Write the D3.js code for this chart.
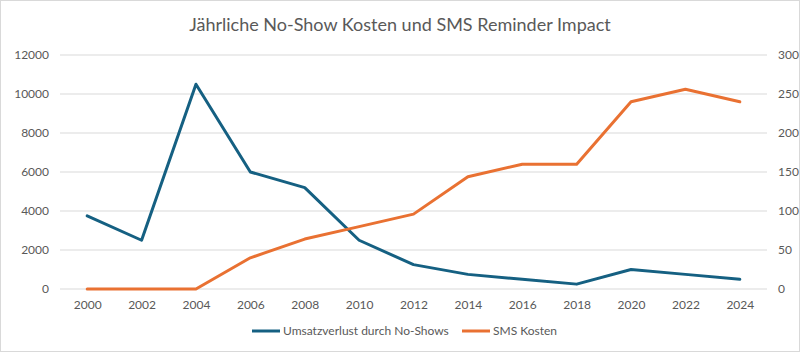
<!DOCTYPE html>
<html><head><meta charset="utf-8">
<script src="https://cdn.jsdelivr.net/npm/d3@7"></script>
<style>body{margin:0;background:#fff;}svg{display:block;font-family:Lato,"Open Sans",sans-serif;}</style>
</head><body><svg id="c" width="800" height="352"></svg>
<script>
const years = ["2000","2002","2004","2006","2008","2010","2012","2014","2016","2018","2020","2022","2024"];
const umsatzverlust = [3750,2500,10500,6000,5200,2500,1250,750,500,250,1000,750,500];
const smsKosten = [0,0,0,40,64,80,96,144,160,160,240,256,240];
const leftTicks = [0,2000,4000,6000,8000,10000,12000];
const rightTicks = [0,50,100,150,200,250,300];
const seriesNames = ["Umsatzverlust durch No-Shows","SMS Kosten"];
const colors = ["#156082","#e97132"];
const title = "Jährliche No-Show Kosten und SMS Reminder Impact";

const svg = d3.select("#c");
svg.append("rect").attr("x",0.5).attr("y",0.5).attr("width",799).attr("height",351).attr("fill","#fff").attr("stroke","#d9d9d9");
const L=60,R=767,T=55,B=289;
const x = d3.scalePoint().domain(years).range([L,R]).padding(0.5);
const yL = d3.scaleLinear().domain([0,12000]).range([B,T]);
const yR = d3.scaleLinear().domain([0,300]).range([B,T]);

svg.append("text").attr("x",400).attr("y",31).attr("text-anchor","middle").attr("font-size",18).attr("fill","#595959").text(title);

const grid = svg.append("g");
grid.selectAll("line").data(leftTicks).join("line")
 .attr("x1",L).attr("x2",R).attr("y1",d=>yL(d)).attr("y2",d=>yL(d)).attr("stroke","#d9d9d9").attr("stroke-width",1);

const axL = svg.append("g").attr("transform",`translate(${L-11},0)`).call(d3.axisLeft(yL).tickValues(leftTicks).tickSize(0).tickPadding(0).tickFormat(d3.format("d")));
const axR = svg.append("g").attr("transform",`translate(${R+11},0)`).call(d3.axisRight(yR).tickValues(rightTicks).tickSize(0).tickPadding(0));
const axX = svg.append("g").attr("transform",`translate(0,${B+9})`).call(d3.axisBottom(x).tickSize(0).tickPadding(0));
[axL,axR,axX].forEach(a=>{a.select(".domain").remove();a.selectAll("text").attr("font-size",12).attr("fill","#595959").attr("font-family","Lato,'Open Sans',sans-serif");});
axX.selectAll("text").attr("dy","0.9em");

const lineL = d3.line().x((d,i)=>x(years[i])).y(d=>yL(d));
const lineR = d3.line().x((d,i)=>x(years[i])).y(d=>yR(d));
svg.append("path").datum(umsatzverlust).attr("d",lineL).attr("fill","none").attr("stroke",colors[0]).attr("stroke-width",3).attr("stroke-linejoin","round").attr("stroke-linecap","round");
svg.append("path").datum(smsKosten).attr("d",lineR).attr("fill","none").attr("stroke",colors[1]).attr("stroke-width",3).attr("stroke-linejoin","round").attr("stroke-linecap","round");

const leg = svg.append("g");
const legX=[252,462];
seriesNames.forEach((n,i)=>{
  leg.append("line").attr("x1",legX[i]).attr("x2",legX[i]+28).attr("y1",331).attr("y2",331).attr("stroke",colors[i]).attr("stroke-width",3);
  leg.append("text").attr("x",legX[i]+31).attr("y",335).attr("font-size",12).attr("fill","#595959").text(n);
});
</script></body></html>
